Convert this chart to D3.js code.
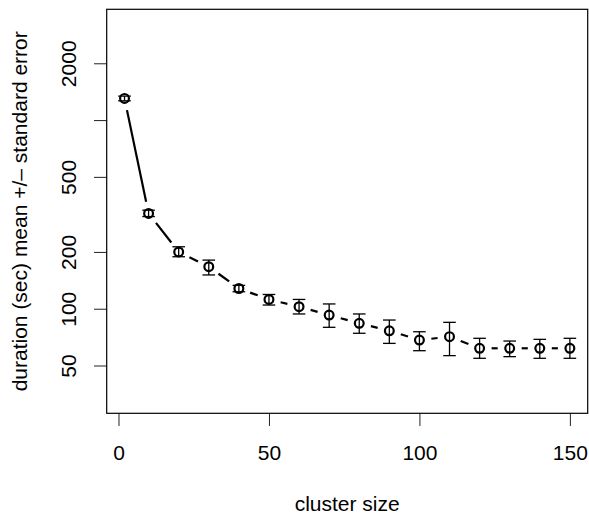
<!DOCTYPE html>
<html>
<head>
<meta charset="utf-8">
<script src="https://cdn.jsdelivr.net/npm/d3@7"></script>
<style>
  body { margin: 0; background: #fff; }
  svg { display: block; font-family: "Liberation Sans", Arial, Helvetica, sans-serif; }
</style>
</head>
<body>
<div id="chart"></div>
<script>
// tamaño del cluster y duración media (seg) con error estándar
const clusterSize = [2, 10, 20, 30, 40, 50, 60, 70, 80, 90, 100, 110, 120, 130, 140, 150];
const meanDuration = [1303, 320, 200, 167, 128, 112, 102.5, 92.6, 83.7, 76.4, 68.2, 71.1, 61.7, 61.7, 61.7, 61.7];
const lowerSE = [1265, 308, 188.6, 151, 123, 104.6, 93.8, 79.7, 74.1, 65.5, 59.9, 56.4, 54.6, 55.7, 54.6, 54.6];
const upperSE = [1340, 333, 213, 181, 133, 119, 112, 106, 93.8, 87.1, 75.5, 84.7, 69.7, 67.4, 68.8, 69.7];

const xTicks = [0, 50, 100, 150];
const yTicks = [50, 100, 200, 500, 1000, 2000];
const yTickLabels = ['50', '100', '200', '500', '', '2000'];

const W = 589, H = 514;
const plot = { left: 106.7, right: 587.7, top: 9.3, bottom: 413.3 };

const svg = d3.select('#chart').append('svg')
    .attr('width', W).attr('height', H);

// Escalas (x lineal, y logarítmica, rango ampliado como en R)
const x = d3.scaleLinear()
    .domain([-3.92, 155.92])
    .range([plot.left, plot.right]);

const y = d3.scaleLog()
    .domain([27.9, 3866])
    .range([plot.bottom, plot.top]);

// Ejes
const xAxis = svg.append('g')
    .attr('transform', `translate(0,${plot.bottom})`)
    .call(d3.axisBottom(x).tickValues(xTicks).tickSize(12.7).tickSizeOuter(0).tickFormat(d3.format('d')));
xAxis.select('.domain').remove();
xAxis.selectAll('line').attr('stroke', '#222').attr('stroke-width', 1);
xAxis.selectAll('text')
    .attr('y', 46.7).attr('dy', 0)
    .attr('font-size', 21).attr('fill', '#000')
    .attr('font-family', '"Liberation Sans", Arial, sans-serif');

const yAxis = svg.append('g')
    .attr('transform', `translate(${plot.left},0)`)
    .call(d3.axisLeft(y).tickValues(yTicks).tickSize(12.7).tickSizeOuter(0)
        .tickFormat((d, i) => yTickLabels[i]));
yAxis.select('.domain').remove();
yAxis.selectAll('line').attr('stroke', '#222').attr('stroke-width', 1);
yAxis.selectAll('text')
    .attr('x', null).attr('dy', null)
    .attr('text-anchor', 'middle')
    .attr('transform', 'translate(-31,0) rotate(-90)')
    .attr('font-size', 21).attr('fill', '#000')
    .attr('font-family', '"Liberation Sans", Arial, sans-serif');

// Caja del gráfico
svg.append('rect')
    .attr('x', plot.left).attr('y', plot.top)
    .attr('width', plot.right - plot.left).attr('height', plot.bottom - plot.top)
    .attr('fill', 'none').attr('stroke', '#000').attr('stroke-width', 1.2);

// Títulos de ejes
svg.append('text')
    .attr('x', (plot.left + plot.right) / 2).attr('y', 511)
    .attr('text-anchor', 'middle').attr('font-size', 21)
    .text('cluster size');

svg.append('text')
    .attr('transform', `translate(27,${(plot.top + plot.bottom) / 2}) rotate(-90)`)
    .attr('text-anchor', 'middle').attr('font-size', 21)
    .text('duration (sec) mean +/\u2013 standard error');

const pts = clusterSize.map((c, i) => ({
    x: x(c), y: y(meanDuration[i]), lo: y(lowerSE[i]), hi: y(upperSE[i])
}));

// Segmentos tipo "b" (con hueco alrededor de cada punto)
const gap = 12;
const segs = d3.pairs(pts).map(([a, b]) => {
    const dx = b.x - a.x, dy = b.y - a.y;
    const len = Math.hypot(dx, dy);
    const ux = dx / len, uy = dy / len;
    return { x1: a.x + ux * gap, y1: a.y + uy * gap, x2: b.x - ux * gap, y2: b.y - uy * gap, ok: len > 2 * gap };
}).filter(s => s.ok);

svg.append('g').selectAll('line')
    .data(segs)
    .join('line')
    .attr('x1', d => d.x1).attr('y1', d => d.y1)
    .attr('x2', d => d.x2).attr('y2', d => d.y2)
    .attr('stroke', '#000').attr('stroke-width', 2.2);

// Barras de error
const capW = 6.3;
const eb = svg.append('g').attr('stroke', '#000').attr('stroke-width', 1.3);
eb.selectAll('.v').data(pts).join('line')
    .attr('x1', d => d.x).attr('x2', d => d.x)
    .attr('y1', d => d.lo).attr('y2', d => d.hi);
eb.selectAll('.lo').data(pts).join('line')
    .attr('x1', d => d.x - capW).attr('x2', d => d.x + capW)
    .attr('y1', d => d.lo).attr('y2', d => d.lo);
eb.selectAll('.hi').data(pts).join('line')
    .attr('x1', d => d.x - capW).attr('x2', d => d.x + capW)
    .attr('y1', d => d.hi).attr('y2', d => d.hi);

// Puntos
svg.append('g').selectAll('circle')
    .data(pts)
    .join('circle')
    .attr('cx', d => d.x).attr('cy', d => d.y)
    .attr('r', 4.4)
    .attr('fill', 'none')
    .attr('stroke', '#000').attr('stroke-width', 2.2);
</script>
</body>
</html>
